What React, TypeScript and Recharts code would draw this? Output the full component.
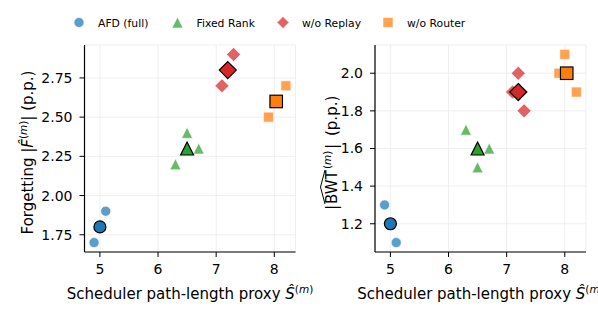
import { ScatterChart, Scatter, XAxis, YAxis, CartesianGrid, Label } from "recharts";

// per-seed values (3 seeds per method)
const afdPath = [4.9, 5.0, 5.1];
const afdForget = [1.7, 1.8, 1.9];
const afdBwt = [1.3, 1.2, 1.1];

const fixedPath = [6.3, 6.5, 6.7];
const fixedForget = [2.2, 2.4, 2.3];
const fixedBwt = [1.7, 1.5, 1.6];

const replayPath = [7.1, 7.2, 7.3];
const replayForget = [2.7, 2.8, 2.9];
const replayBwt = [1.9, 2.0, 1.8];

const routerPath = [7.9, 8.0, 8.2];
const routerForget = [2.5, 2.6, 2.7];
const routerBwt = [2.0, 2.1, 1.9];

const xTicks = [5, 6, 7, 8];
const forgetTicks = [1.75, 2.0, 2.25, 2.5, 2.75];
const bwtTicks = [1.2, 1.4, 1.6, 1.8, 2.0];

type MarkerKind = "circle" | "triangle" | "diamond" | "square";

const SERIES = [
  { name: "AFD (full)", color: "#1f77b4", marker: "circle" as MarkerKind, path: afdPath, forget: afdForget, bwt: afdBwt },
  { name: "Fixed Rank", color: "#2ca02c", marker: "triangle" as MarkerKind, path: fixedPath, forget: fixedForget, bwt: fixedBwt },
  { name: "w/o Replay", color: "#d62728", marker: "diamond" as MarkerKind, path: replayPath, forget: replayForget, bwt: replayBwt },
  { name: "w/o Router", color: "#ff7f0e", marker: "square" as MarkerKind, path: routerPath, forget: routerForget, bwt: routerBwt },
];

const FONT = "'DejaVu Sans', sans-serif";
const mean = (a: number[]) => a.reduce((s, v) => s + v, 0) / a.length;

// marker size = full width in px
const LIGHT_SIZE: Record<MarkerKind, number> = { circle: 10, triangle: 11, diamond: 14, square: 10 };
const MEAN_SIZE: Record<MarkerKind, number> = { circle: 12, triangle: 13, diamond: 17, square: 12.5 };

function Marker({ kind, cx, cy, size, color, isMean }: any) {
  const h = size / 2;
  const style = isMean
    ? { fill: color, stroke: "#000", strokeWidth: 1.2 }
    : { fill: color, fillOpacity: 0.72, stroke: "#fff", strokeOpacity: 0.6, strokeWidth: 1 };
  if (kind === "circle") return <circle cx={cx} cy={cy} r={h} {...style} />;
  if (kind === "square") return <rect x={cx - h} y={cy - h} width={size} height={size} {...style} />;
  if (kind === "diamond")
    return <polygon points={`${cx},${cy - h} ${cx + h},${cy} ${cx},${cy + h} ${cx - h},${cy}`} {...style} />;
  return <polygon points={`${cx},${cy - h} ${cx + h},${cy + h} ${cx - h},${cy + h}`} {...style} />;
}

function XTitle({ viewBox }: any) {
  const vb = viewBox || { x: 0, y: 0, width: 0, height: 0 };
  return (
    <text x={vb.x + vb.width / 2} y={vb.y + 47} textAnchor="middle" fontSize={15} fontFamily={FONT} fill="#000">
      Scheduler path-length proxy <tspan fontStyle="italic">Ŝ</tspan>
      <tspan fontSize={10.5} dy={-6}>(</tspan>
      <tspan fontSize={10.5} fontStyle="italic">m</tspan>
      <tspan fontSize={10.5}>)</tspan>
    </text>
  );
}

function ForgetTitle({ viewBox }: any) {
  const vb = viewBox || { x: 0, y: 45, width: 84, height: 207 };
  const x = vb.x + 33;
  const y = vb.y + vb.height / 2 + 4;
  return (
    <text transform={`translate(${x},${y}) rotate(-90)`} textAnchor="middle" fontSize={15} fontFamily={FONT} fill="#000">
      Forgetting |<tspan fontStyle="italic">{"F\u0302"}</tspan>
      <tspan fontSize={10.5} dy={-6}>(</tspan>
      <tspan fontSize={10.5} fontStyle="italic">m</tspan>
      <tspan fontSize={10.5}>)</tspan>
      <tspan dy={6}>| (p.p.)</tspan>
    </text>
  );
}

function BwtTitle({ viewBox }: any) {
  const vb = viewBox || { x: 0, y: 45, width: 75, height: 207 };
  const x = vb.x + 37;
  const y = vb.y + vb.height / 2 + 1.5;
  return (
    <g transform={`translate(${x},${y}) rotate(-90)`} fontFamily={FONT} fill="#000">
      <text x={-60} y={0} fontSize={15}>|</text>
      <text x={-54} y={0} fontSize={15}>BWT</text>
      <path d="M -54 -12 L -37 -16.5 L -20 -12" fill="none" stroke="#000" strokeWidth={1} />
      <text x={-19} y={-6} fontSize={10.5}>
        (<tspan fontStyle="italic">m</tspan>)
      </text>
      <text x={1} y={0} fontSize={15}>|</text>
      <text x={14} y={0} fontSize={15}>(p.p.)</text>
    </g>
  );
}

function Panel({ metric, yDomain, yTicks, yFmt, width, left, yAxisWidth, marginRight, Title }: any) {
  return (
    <div style={{ position: "absolute", left, top: 0 }}>
      <ScatterChart width={width} height={318} margin={{ top: 45, right: marginRight, bottom: 0, left: 0 }}>
        <CartesianGrid stroke="#ebebeb" strokeWidth={0.8} />
        <XAxis
          type="number"
          dataKey="x"
          domain={[4.735, 8.365]}
          ticks={xTicks}
          allowDataOverflow
          height={66}
          tickSize={5}
          tickMargin={7}
          axisLine={{ stroke: "#000", strokeWidth: 1.2 }}
          tickLine={{ stroke: "#000", strokeWidth: 1 }}
          tick={{ fill: "#000", fontSize: 14, fontFamily: FONT }}
        >
          <Label content={(p: any) => <XTitle viewBox={p.viewBox} />} />
        </XAxis>
        <YAxis
          type="number"
          dataKey="y"
          domain={yDomain}
          ticks={yTicks}
          allowDataOverflow
          width={yAxisWidth}
          tickFormatter={yFmt}
          tickSize={5}
          tickMargin={7}
          axisLine={{ stroke: "#000", strokeWidth: 1.2 }}
          tickLine={{ stroke: "#000", strokeWidth: 1 }}
          tick={{ fill: "#000", fontSize: 14, fontFamily: FONT }}
        >
          <Label content={(p: any) => <Title viewBox={p.viewBox} />} />
        </YAxis>
        {SERIES.flatMap((s) => {
          const vals: number[] = s[metric as "forget" | "bwt"];
          const seeds = s.path.map((x, i) => ({ x, y: vals[i] }));
          const avg = [{ x: mean(s.path), y: mean(vals) }];
          return [
            <Scatter
              key={s.name + "-seeds"}
              data={seeds}
              isAnimationActive={false}
              shape={(p: any) => <Marker kind={s.marker} cx={p.cx} cy={p.cy} size={LIGHT_SIZE[s.marker]} color={s.color} />}
            />,
            <Scatter
              key={s.name + "-mean"}
              data={avg}
              isAnimationActive={false}
              shape={(p: any) => <Marker kind={s.marker} cx={p.cx} cy={p.cy} size={MEAN_SIZE[s.marker]} color={s.color} isMean />}
            />,
          ];
        })}
      </ScatterChart>
    </div>
  );
}

const LEGEND_X = [79, 177.5, 283, 388];

function TopLegend() {
  return (
    <svg width={598} height={40} style={{ position: "absolute", left: 0, top: 0 }}>
      {SERIES.map((s, i) => (
        <g key={s.name}>
          <Marker kind={s.marker} cx={LEGEND_X[i]} cy={22.5} size={LIGHT_SIZE[s.marker] - (s.marker === "diamond" ? 2 : 0)} color={s.color} />
          <text x={LEGEND_X[i] + 19} y={26.5} fontSize={10.8} fontFamily={FONT} fill="#000">
            {s.name}
          </text>
        </g>
      ))}
    </svg>
  );
}

export default function App() {
  return (
    <div style={{ position: "absolute", left: 0, top: 0, width: 598, height: 318, background: "#fff", overflow: "hidden" }}>
      <Panel
        metric="forget"
        yDomain={[1.64, 2.96]}
        yTicks={forgetTicks}
        yFmt={(v: number) => v.toFixed(2)}
        width={330}
        left={0}
        yAxisWidth={84.5}
        marginRight={34.5}
        Title={ForgetTitle}
      />
      <Panel
        metric="bwt"
        yDomain={[1.05, 2.15]}
        yTicks={bwtTicks}
        yFmt={(v: number) => v.toFixed(1)}
        width={298}
        left={300}
        yAxisWidth={75}
        marginRight={12}
        Title={BwtTitle}
      />
      <TopLegend />
    </div>
  );
}
